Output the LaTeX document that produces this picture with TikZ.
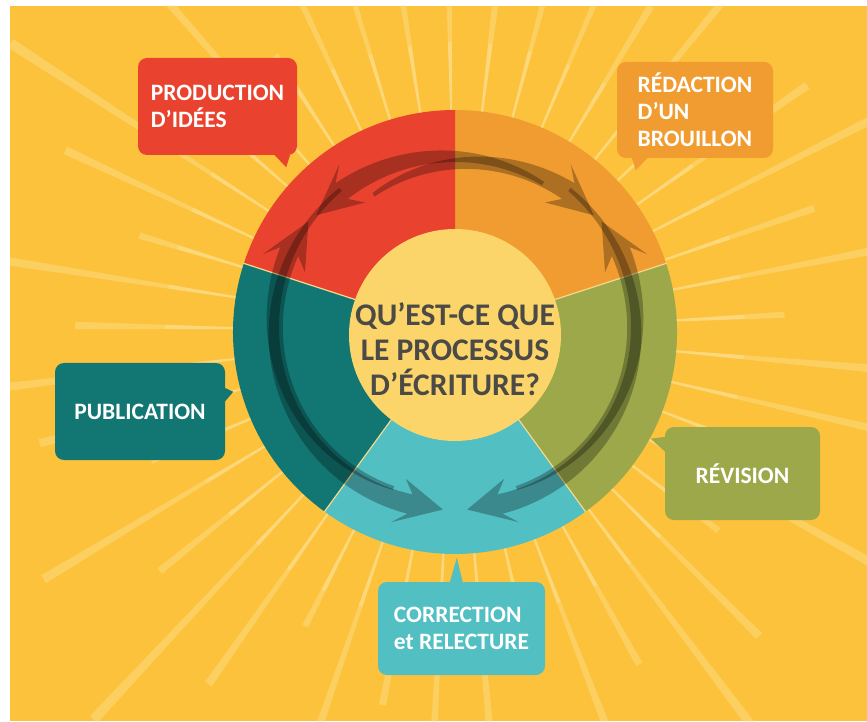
\documentclass[tikz,border=0pt]{standalone}
\usepackage{fontspec}
\setmainfont{Carlito}
\usetikzlibrary{calc}

\definecolor{bgyellow}{HTML}{FCC23C}
\definecolor{raycol}{HTML}{FFEBB0}
\definecolor{segred}{HTML}{E9432F}
\definecolor{segorange}{HTML}{F19C30}
\definecolor{segolive}{HTML}{9CA84A}
\definecolor{segcyan}{HTML}{52BFC3}
\definecolor{segteal}{HTML}{127672}
\definecolor{hub}{HTML}{FCD56A}
\definecolor{hubtext}{HTML}{4B4A47}
\definecolor{seam}{HTML}{F3D98C}

% centre of the circular arrows
\def\arcx{455}
\def\arcy{385}
% tapered circular arrow:
% #1 radius at tail, #2 radius at head, #3 tail angle, #4 barb angle,
% #5 neck angle, #6 tip angle, #7 body width, #8 head width
\newcommand\looparrow[8]{%
  \fill[arrowshade]
    plot[domain=#3:#5, samples=50]
      ({\arcx+((#1)+((#2)-(#1))*(\x-(#3))/((#5)-(#3))+(2+((#7)/2-2)*(\x-(#3))/((#5)-(#3))))*cos(\x)},
       {\arcy+((#1)+((#2)-(#1))*(\x-(#3))/((#5)-(#3))+(2+((#7)/2-2)*(\x-(#3))/((#5)-(#3))))*sin(\x)})
    -- ({\arcx+((#2)+(#8)/2)*cos(#4)},{\arcy+((#2)+(#8)/2)*sin(#4)})
    -- ({\arcx+(#2)*cos(#6)},{\arcy+(#2)*sin(#6)})
    -- ({\arcx+((#2)-(#8)/2)*cos(#4)},{\arcy+((#2)-(#8)/2)*sin(#4)})
    -- plot[domain=#5:#3, samples=50]
      ({\arcx+((#1)+((#2)-(#1))*(\x-(#3))/((#5)-(#3))-(2+((#7)/2-2)*(\x-(#3))/((#5)-(#3))))*cos(\x)},
       {\arcy+((#1)+((#2)-(#1))*(\x-(#3))/((#5)-(#3))-(2+((#7)/2-2)*(\x-(#3))/((#5)-(#3))))*sin(\x)})
    -- cycle;
}

\begin{document}
\begin{tikzpicture}[x=1pt, y=1pt,
  bubble/.style={rounded corners=9pt, text=white, inner sep=0pt, align=left,
    font=\fontsize{23.5}{27}\selectfont\bfseries},
  arrowshade/.style={fill=black, fill opacity=0.28},
  ray/.style={fill=raycol, fill opacity=0.32},
  seamline/.style={draw=seam, line width=1.2pt}]

\useasboundingbox (0,0) rectangle (867,721);
\fill[white] (0,0) rectangle (867,721);
\fill[bgyellow] (10,0) rectangle (867,715);

% sun rays
\begin{scope}
  \clip (10,0) rectangle (867,715);
  \begin{scope}[shift={(455,389)}]
    \foreach \i in {0,...,44}{
      \pgfmathsetmacro\ang{\i*8+3}
      \pgfmathsetmacro\len{330+50*mod(\i*3,5)}
      \fill[ray] (\ang-0.25:210) -- (\ang-0.55:\len) -- (\ang+0.55:\len) -- (\ang+0.25:210) -- cycle;
      \fill[ray] (\ang-0.25:210) -- (\ang-0.4:290) -- (\ang+0.4:290) -- (\ang+0.25:210) -- cycle;
    }
  \end{scope}
\end{scope}

% five-part ring
\begin{scope}[shift={(455,389)}]
  \fill[segorange] (0,0) -- (18:222) arc[start angle=18, end angle=90, radius=222] -- cycle;
  \fill[segred] (0,0) -- (90:222) arc[start angle=90, end angle=162, radius=222] -- cycle;
  \fill[segteal] (0,0) -- (162:222) arc[start angle=162, end angle=234, radius=222] -- cycle;
  \fill[segcyan] (0,0) -- (234:222) arc[start angle=234, end angle=306, radius=222] -- cycle;
  \fill[segolive] (0,0) -- (306:222) arc[start angle=306, end angle=378, radius=222] -- cycle;
  \foreach \a in {18,162,234,306} \draw[seamline] (\a:100) -- (\a:223);
\end{scope}
\fill[hub] (455,386) circle[radius=106];

% circular arrows
\looparrow{176}{184}{60}{124}{128}{139}{20}{46}
\looparrow{163}{184}{120}{56}{52}{41}{20}{46}
\looparrow{164}{186}{248}{157}{153}{142}{20}{46}
\looparrow{164}{186}{-68}{23}{27}{38}{20}{46}
\looparrow{186}{174}{128}{251}{255}{266}{20}{46}
\looparrow{186}{174}{52}{-71}{-75}{-86}{20}{46}

\node[font=\fontsize{31.5}{35}\selectfont\bfseries, text=hubtext, align=center]
  (question) at (455,372) {QU’EST-CE QUE\\LE PROCESSUS\\D’ÉCRITURE?};

% speech bubbles
\node[bubble, fill=segred, minimum width=159, minimum height=97] (ideas) at (217.5,614.5) {PRODUCTION\\D’IDÉES};
\fill[segred] ($(ideas.south east)+(-23,0.5)$) -- ($(ideas.south east)+(-11,-12)$) -- ($(ideas.south east)+(-7,0.5)$) -- cycle;

\node[bubble, fill=segorange, minimum width=156, minimum height=96] (draft) at (695,611) {RÉDACTION\\D’UN\\BROUILLON};
\fill[segorange] ($(draft.south west)+(15,0.5)$) -- ($(draft.south west)+(19,-12)$) -- ($(draft.south west)+(31,0.5)$) -- cycle;

\node[bubble, fill=segteal, minimum width=170, minimum height=97] (publish) at (140,309.5) {PUBLICATION};
\fill[segteal] ($(publish.north east)+(-0.5,-25)$) -- ($(publish.north east)+(8,-29)$) -- ($(publish.north east)+(-0.5,-39)$) -- cycle;

\node[bubble, fill=segolive, minimum width=155, minimum height=93] (revise) at (742.5,247.5) {RÉVISION};
\fill[segolive] ($(revise.north west)+(0.5,-10)$) -- ($(revise.north west)+(-14,-12)$) -- ($(revise.north west)+(0.5,-25)$) -- cycle;

\node[bubble, fill=segcyan, minimum width=167, minimum height=93] (proof) at (461.5,92.5) {CORRECTION\\et RELECTURE};
\fill[segcyan] ($(proof.north west)+(72,-0.5)$) -- ($(proof.north west)+(79,24)$) -- ($(proof.north west)+(85,-0.5)$) -- cycle;

\end{tikzpicture}
\end{document}
